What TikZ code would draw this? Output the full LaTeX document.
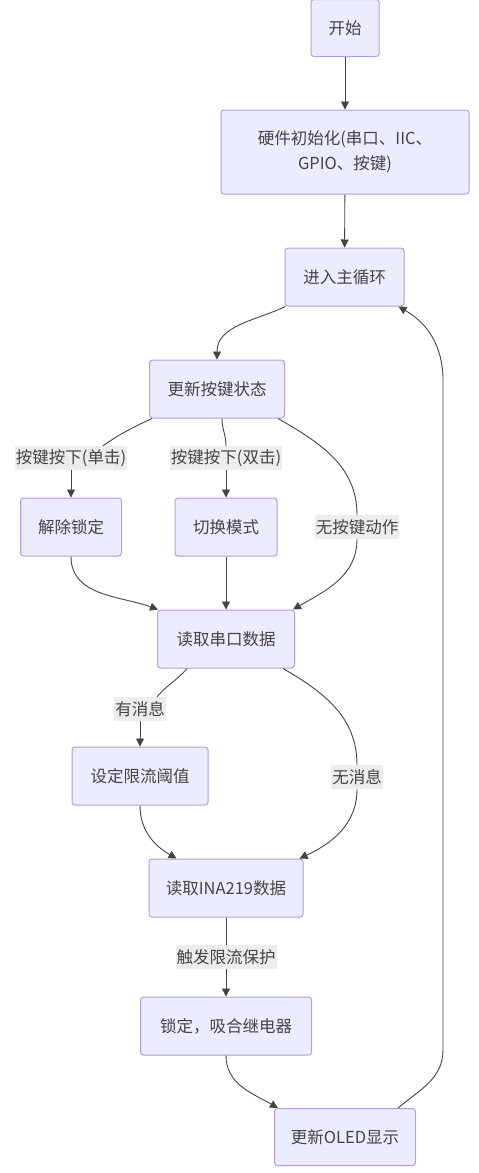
\documentclass[tikz,border=0pt]{standalone}
\usepackage{fontspec}
\setmainfont{Noto Sans CJK SC}
\usetikzlibrary{arrows.meta,positioning}

\definecolor{boxfill}{HTML}{ECECFF}
\definecolor{boxline}{HTML}{B09DE4}
\definecolor{edgeline}{HTML}{444444}
\definecolor{tagfill}{HTML}{E8E8E8}

\begin{document}
\begin{tikzpicture}[
  x=1pt, y=1pt,
  font=\fontsize{16.5}{25}\selectfont,
  box/.style={draw=boxline, fill=boxfill, line width=1pt, rounded corners=3pt,
    minimum height=58pt, align=center, text=edgeline},
  tag/.style={fill=tagfill, fill opacity=0.8, text opacity=1, inner sep=1pt,
    minimum height=24pt, text=edgeline},
  link/.style={draw=edgeline, line width=0.9pt},
  flow/.style={link, -{Triangle[length=8pt,width=8pt]}}
]

  \useasboundingbox (0,0) rectangle (479,-1173);

  % Boxes
  \node (start) at (345,-28) [box, minimum width=68pt, minimum height=57pt] {开始};
  \node (init) at (345,-152) [box, minimum width=248pt, minimum height=84pt] {硬件初始化(串口、IIC、\\GPIO、按键)};
  \node (loop) at (344.5,-277) [box, minimum width=119pt] {进入主循环};
  \node (keys) at (217,-389) [box, minimum width=135pt] {更新按键状态};
  \node (unlock) at (71,-527) [box, minimum width=101pt] {解除锁定};
  \node (mode) at (226,-527) [box, minimum width=102pt] {切换模式};
  \node (uart) at (226,-639) [box, minimum width=137pt] {读取串口数据};
  \node (limit) at (140,-776) [box, minimum width=136pt] {设定限流阈值};
  \node (ina) at (226,-888) [box, minimum width=154pt] {读取INA219数据};
  \node (lock) at (226,-1026) [box, minimum width=171pt] {锁定，吸合继电器};
  \node (oled) at (345,-1137) [box, minimum width=141pt, minimum height=57pt] {更新OLED显示};

  % Edge labels
  \node (single) at (71,-458) [tag] {按键按下(单击)};
  \node (double) at (226,-458) [tag] {按键按下(双击)};
  \node (nokey) at (357,-527) [tag] {无按键动作};
  \node (msg) at (140,-709) [tag] {有消息};
  \node (nomsg) at (357,-777) [tag] {无消息};
  \node (prot) at (226,-957) [tag] {触发限流保护};

  % Start-up
  \draw[flow] (start) -- (init);
  \draw[flow] (init) -- (loop);
  \draw[flow] ([xshift=1pt]loop.south west) to[out=205,in=90] (keys.north);

  % Key handling
  \draw[link] ([xshift=3pt]keys.south west) to[out=205,in=35] ([xshift=32pt]single.north);
  \draw[flow] (single) -- (unlock);
  \draw[link] ([xshift=5pt]keys.south) to[out=-90,in=90] (double);
  \draw[flow] (double) -- (mode);
  \draw[link] ([xshift=-7pt]keys.south east) to[out=-30,in=90] (nokey);
  \draw[flow] (unlock) to[out=-90,in=160] ([xshift=1pt]uart.north west);
  \draw[flow] (mode) -- (uart);
  \draw[flow] (nokey) to[out=-90,in=30] ([xshift=-2pt]uart.north east);

  % Serial data
  \draw[link] ([xshift=30pt]uart.south west) to[out=230,in=50] ([xshift=17pt]msg.north);
  \draw[flow] (msg) -- (limit);
  \draw[link] ([xshift=-12pt]uart.south east) to[out=-30,in=90] (nomsg);
  \draw[flow] (limit) to[out=-90,in=150] ([xshift=28pt]ina.north west);
  \draw[flow] (nomsg) to[out=-90,in=25] ([xshift=-4pt]ina.north east);

  % Protection and display
  \draw[link] (ina) -- (prot);
  \draw[flow] (prot) -- (lock);
  \draw[flow] (lock) to[out=-90,in=150] ([xshift=4pt]oled.north west);

  % Back to main loop
  \draw[flow] ([xshift=-18pt]oled.north east) to[out=40,in=-90] (443,-1050)
    -- (443,-380) to[out=90,in=-30] ([xshift=-6pt]loop.south east);

\end{tikzpicture}
\end{document}
